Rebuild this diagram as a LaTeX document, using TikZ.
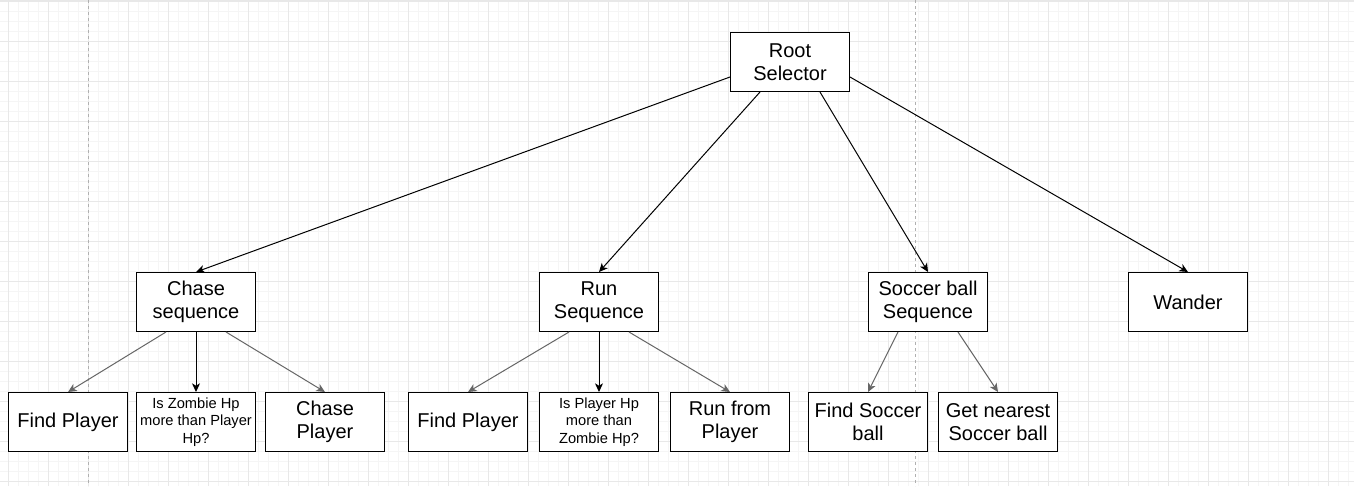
\documentclass[tikz,border=0pt]{standalone}
\usepackage{fontspec}
\setmainfont{Liberation Sans}
\usetikzlibrary{arrows.meta,calc}
\definecolor{minorgrid}{HTML}{F5F5F5}
\definecolor{majorgrid}{HTML}{E8E8E8}
\definecolor{pagebreak}{HTML}{B0B0B0}
\definecolor{edgegray}{HTML}{666666}
\tikzset{
  box/.style={draw=black, line width=0.75pt, fill=white, minimum width=89.25pt, minimum height=44.25pt,
    inner sep=0pt, align=center, font=\fontsize{15pt}{17.6pt}\selectfont},
  smallbox/.style={box, font=\fontsize{11pt}{13.3pt}\selectfont},
  link/.style={line width=0.75pt, draw=black, -{Stealth[length=6.5pt,width=6pt,inset=1.8pt]}},
  sublink/.style={link, draw=edgegray},
  minorline/.style={draw=minorgrid, line width=0.75pt},
  majorline/.style={draw=majorgrid, line width=0.75pt},
  breakline/.style={draw=pagebreak, line width=0.75pt, dash pattern=on 2.25pt off 2.25pt}
}
\begin{document}
\begin{tikzpicture}[x=0.75pt,y=-0.75pt]
\useasboundingbox (0,0) rectangle (1354,486);
\fill[white] (0,0) rectangle (1354,486);
% grid
\foreach \x in {8,18,...,1348} \draw[minorline] (\x,0) -- (\x,486);
\foreach \y in {1,11,...,481} \draw[minorline] (0,\y) -- (1354,\y);
\foreach \x in {8,48,...,1328} \draw[majorline] (\x,0) -- (\x,486);
\foreach \y in {1,41,...,481} \draw[majorline] (0,\y) -- (1354,\y);
\draw[draw=majorgrid, line width=1.5pt] (0,0.5) -- (1354,0.5);
\draw[breakline] (88,0) -- (88,486);
\draw[breakline] (915,0) -- (915,486);
% nodes
\node[box] (root) at (790,62) {Root\\Selector};
\node[box] (chase) at (196,302) {Chase\\sequence};
\node[box] (run) at (599,302) {Run\\Sequence};
\node[box] (soccer) at (928,302) {Soccer ball\\Sequence};
\node[box] (wander) at (1188,302) {Wander};
\node[box] (fp1) at (68,422) {Find Player};
\node[smallbox] (iz) at (196,422) {Is Zombie Hp\\more than Player\\Hp?};
\node[box] (cp) at (325,422) {Chase\\Player};
\node[box] (fp2) at (468,422) {Find Player};
\node[smallbox] (ip) at (599,422) {Is Player Hp\\more than\\Zombie Hp?};
\node[box] (rf) at (730,422) {Run from\\Player};
\node[box] (fs) at (868,422) {Find Soccer\\ball};
\node[box] (gn) at (998,422) {Get nearest\\Soccer ball};
% edges from root
\draw[link] ($(root.west)!0.5!(root.south west)$) -- (chase.north);
\draw[link] ($(root.south)+(-30,0)$) -- (run.north);
\draw[link] ($(root.south)+(30,0)$) -- (soccer.north);
\draw[link] ($(root.east)!0.5!(root.south east)$) -- (wander.north);
% chase children
\draw[sublink] ($(chase.south)+(-30,0)$) -- (fp1.north);
\draw[link] (chase.south) -- (iz.north);
\draw[sublink] ($(chase.south)+(30,0)$) -- (cp.north);
% run children
\draw[sublink] ($(run.south)+(-30,0)$) -- (fp2.north);
\draw[link] (run.south) -- (ip.north);
\draw[sublink] ($(run.south)+(30,0)$) -- (rf.north);
% soccer children
\draw[sublink] ($(soccer.south)+(-30,0)$) -- (fs.north);
\draw[sublink] ($(soccer.south)+(30,0)$) -- (gn.north);
\end{tikzpicture}
\end{document}
